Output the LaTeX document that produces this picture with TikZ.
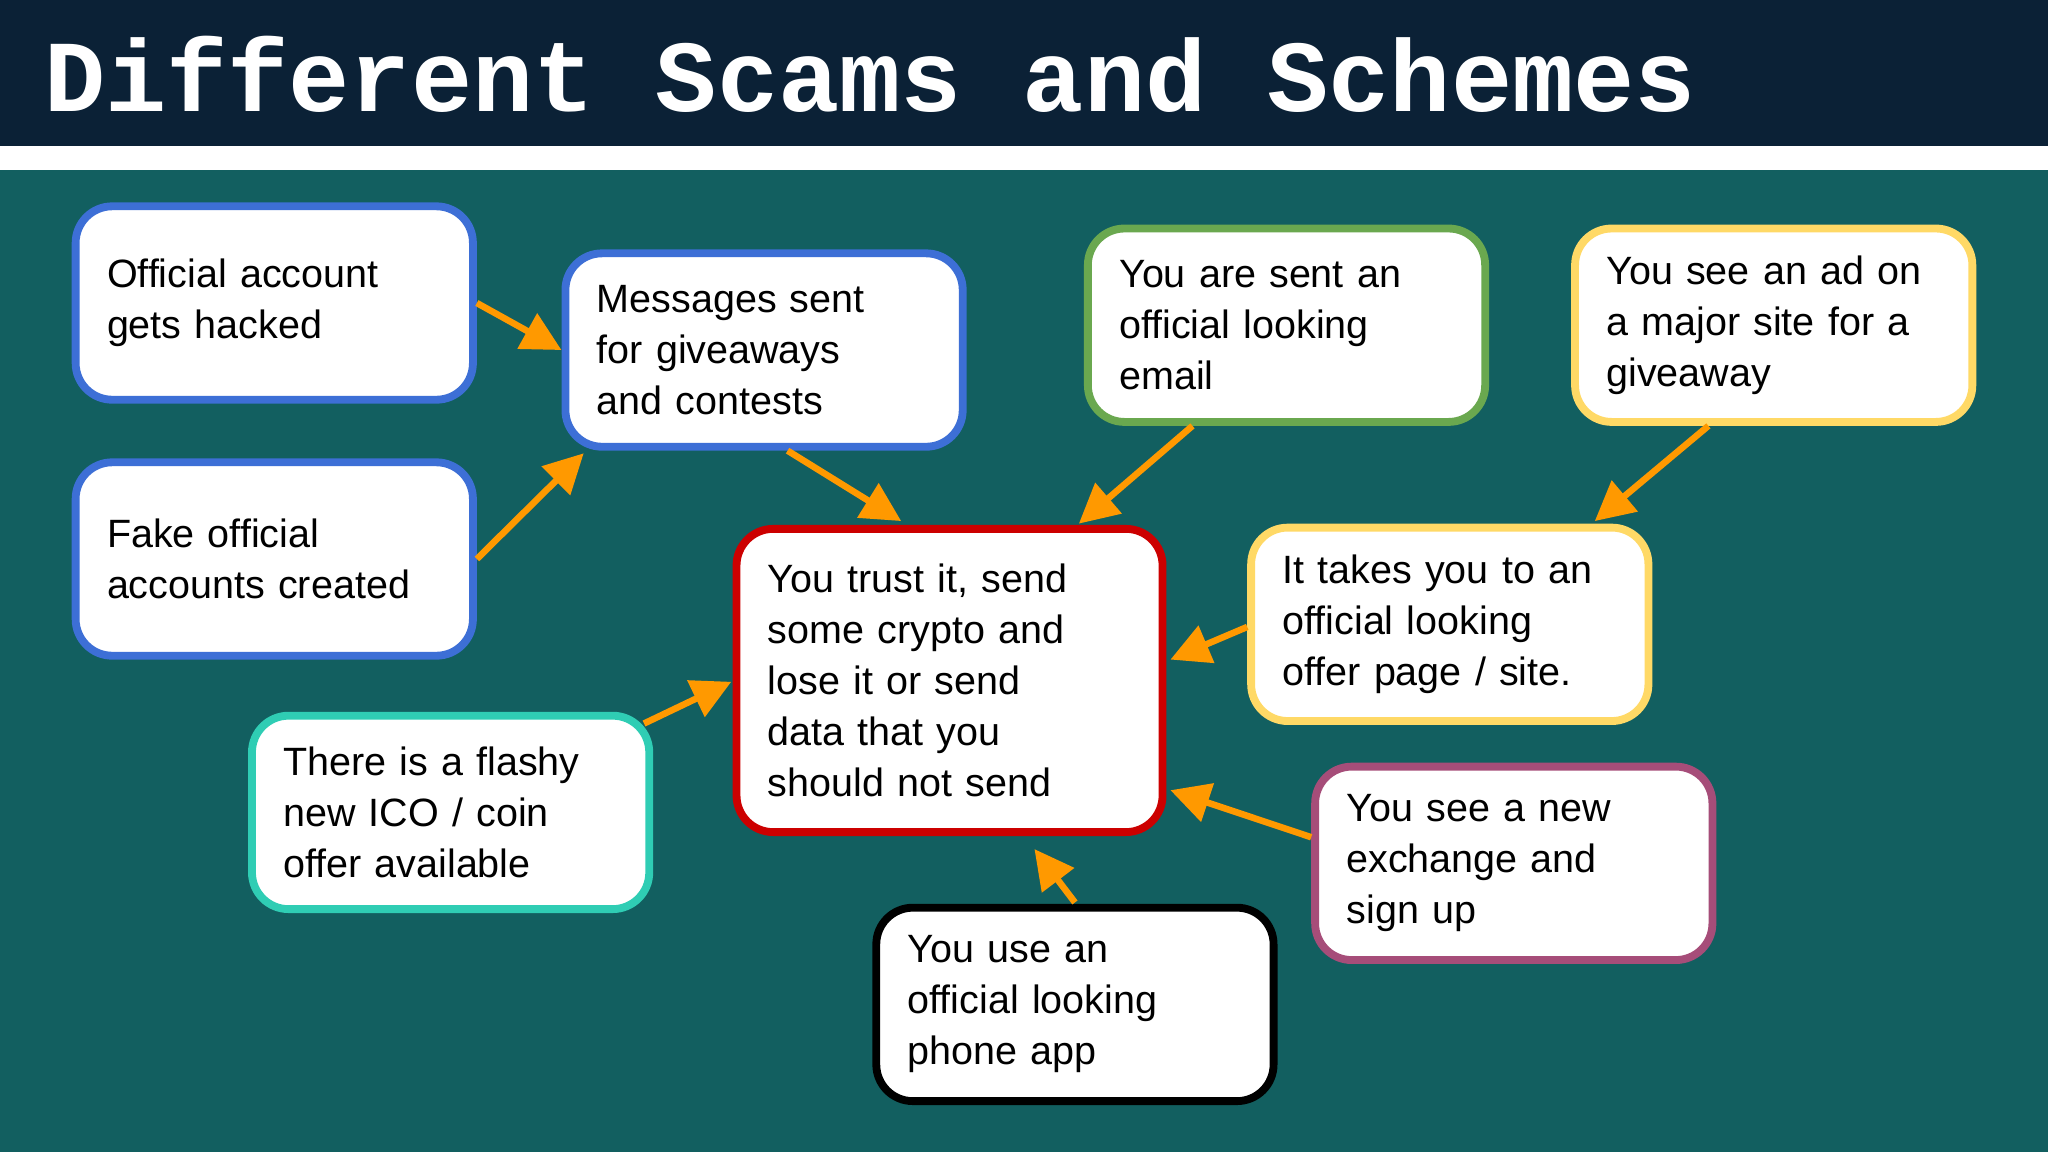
\documentclass[tikz,border=0pt]{standalone}
\usepackage{fontspec}
\setmainfont{Liberation Sans}
\newfontfamily\titlefont{Liberation Mono}
\usetikzlibrary{calc,arrows.meta}
\definecolor{navy}{HTML}{0B2136}
\definecolor{teal}{HTML}{125F60}
\definecolor{bblue}{HTML}{3D6FD6}
\definecolor{bgreen}{HTML}{6AA84F}
\definecolor{byellow}{HTML}{FFD966}
\definecolor{bred}{HTML}{CC0000}
\definecolor{bteal}{HTML}{2FCDB4}
\definecolor{bpurple}{HTML}{A64D79}
\definecolor{arr}{HTML}{FF9900}
\begin{document}
\begin{tikzpicture}[x=0.01cm,y=-0.01cm,
 box/.style={draw=#1,line width=0.06cm,fill=white,rounded corners=0.28cm,
   minimum width=3.04cm,minimum height=1.48cm,text width=2.56cm,align=left,
   font=\fontsize{8.6pt}{11.1pt}\selectfont,inner xsep=0.24cm},
 con/.style={draw=arr,line width=0.05cm,-{Triangle[length=0.3cm,width=0.3cm]}}]
\fill[teal] (0,0) rectangle (1568,882);
\fill[navy] (0,0) rectangle (1568,112);
\fill[white] (0,112) rectangle (1568,130);
\node[anchor=west,text=white,inner sep=0,font=\titlefont\bfseries\fontsize{22.2pt}{24pt}\selectfont] (title) at (33,57) {Different Scams and Schemes};
\node[box=bblue] (A) at (210,232) {Official account\\gets hacked};
\node[box=bblue] (B) at (210,428) {Fake official\\accounts created};
\node[box=bblue] (C) at (585,268) {Messages sent\\for giveaways\\and contests};
\node[box=bgreen] (D) at (985,249) {You are sent an\\official looking\\email};
\node[box=byellow] (E) at (1358,249) {You see an ad on\\a major site for a\\giveaway};
\node[box=bred,minimum width=3.26cm,text width=2.78cm,minimum height=2.32cm] (F) at (727,521) {You trust it, send\\some crypto and\\lose it or send\\data that you\\should not send};
\node[box=byellow] (G) at (1110,478) {It takes you to an\\official looking\\offer page / site.};
\node[box=bteal] (H) at (345,622) {There is a flashy\\new ICO / coin\\offer available};
\node[box=black] (I) at (823,769) {You use an\\official looking\\phone app};
\node[box=bpurple] (J) at (1159,661) {You see a new\\exchange and\\sign up};
\draw[con] (A.east) -- (C.west);
\draw[con] (B.east) -- ($(C.south west)+(17,2)$);
\draw[con] ($(C.south)+(18,0)$) -- ($(F.north)+(-37,-3)$);
\draw[con] ($(D.south)+(-72,0)$) -- ($(F.north)+(99,-1)$);
\draw[con] ($(E.south)+(-50,0)$) -- ($(G.north)+(111,-2)$);
\draw[con] ($(G.west)+(0,2)$) -- ($(F.east)+(3,-16)$);
\draw[con] ($(H.north east)+(-7,9)$) -- ($(F.west)+(-1,1)$);
\draw[con] (J.west|-641,641) -- ($(F.east)+(3,84)$);
\draw[con] ($(I.north)+(0,-1)$) -- ($(F.south)+(65,10)$);
\end{tikzpicture}
\end{document}
